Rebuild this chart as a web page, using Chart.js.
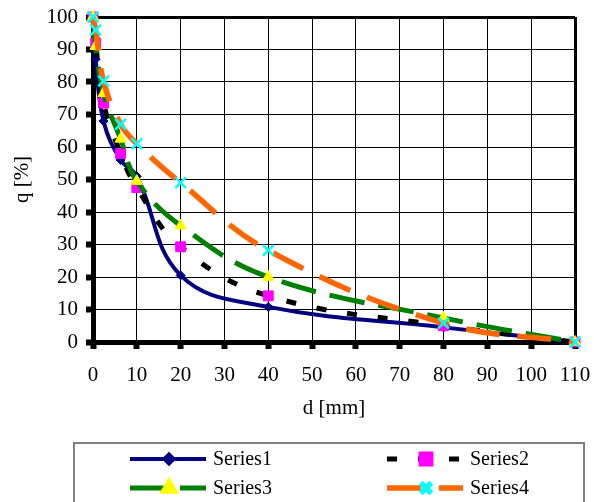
<!DOCTYPE html>
<html>
<head>
<meta charset="UTF-8">
<title>Grading curves</title>
<style>
html, body { margin: 0; padding: 0; background: #fff; }
#wrap { width: 594px; height: 502px; }
</style>
</head>
<body>
<div id="wrap"><canvas id="gradChart" width="594" height="502"></canvas></div>

<script src="https://cdn.jsdelivr.net/npm/chart.js"></script>
<script>
// sieve sizes d [mm] and passing q [%]
const sieve = [0, 0.6, 2.4, 6.3, 10, 20, 40, 80, 110];
const series1 = [100, 87, 68, 56, 51, 20.5, 10.8, 4.5, 0];
const series2 = [100, 92, 73.5, 58, 47.5, 29.3, 14.2, 5, 0];
const series3 = [100, 91, 76.5, 62.5, 49.5, 35.8, 20, 7.4, 0];
const series4 = [100, 96, 80.3, 67, 61, 49, 28.2, 5.8, 0];
const seriesNames = ['Series1', 'Series2', 'Series3', 'Series4'];
const xTicks = [0, 10, 20, 30, 40, 50, 60, 70, 80, 90, 100, 110];
const yTicks = [0, 10, 20, 30, 40, 50, 60, 70, 80, 90, 100];

const pts = vals => vals.map((v, i) => ({ x: sieve[i], y: v }));
const serif = 'Liberation Serif, Times New Roman, serif';

// legend drawn like the spreadsheet one: line sample with marker in the middle
const sheetLegend = {
  id: 'sheetLegend',
  afterDraw(chart) {
    const c = chart.ctx;
    c.save();
    c.strokeStyle = '#808080';
    c.lineWidth = 2;
    c.setLineDash([]);
    c.strokeRect(74, 443, 510, 80);
    chart.data.datasets.forEach((ds, i) => {
      const x = i % 2 ? 387 : 130;
      const y = i < 2 ? 459 : 488;
      c.strokeStyle = ds.borderColor;
      c.lineWidth = ds.borderWidth;
      c.setLineDash(ds.borderDash || []);
      c.beginPath();
      c.moveTo(x, y);
      c.lineTo(x + 76, y);
      c.stroke();
      c.setLineDash([]);
      c.fillStyle = ds.pointBackgroundColor;
      c.strokeStyle = ds.pointBorderColor;
      Chart.helpers.drawPoint(c, {
        pointStyle: ds.pointStyle,
        radius: ds.pointRadius,
        borderWidth: ds.pointBorderWidth,
        rotation: 0
      }, x + 39, y);
      c.fillStyle = '#000';
      c.font = '20px ' + serif;
      c.textBaseline = 'middle';
      c.fillText(ds.label, x + 83, y + 1);
    });
    c.restore();
  }
};

new Chart(document.getElementById('gradChart'), {
  type: 'line',
  data: {
    datasets: [{
      label: seriesNames[0],
      data: pts(series1),
      order: 3,
      borderColor: '#000080',
      borderWidth: 4,
      pointStyle: 'rectRot',
      pointRadius: 4.5,
      pointBackgroundColor: '#000080',
      pointBorderColor: '#000080',
      pointBorderWidth: 1
    }, {
      label: seriesNames[1],
      data: pts(series2),
      order: 2,
      borderColor: '#000000',
      borderWidth: 5,
      borderDash: [10, 21],
      pointStyle: 'rect',
      pointRadius: 7,
      pointBackgroundColor: '#ff00ff',
      pointBorderColor: '#ff00ff',
      pointBorderWidth: 1
    }, {
      label: seriesNames[2],
      data: pts(series3),
      order: 1,
      borderColor: '#008000',
      borderWidth: 5,
      borderDash: [36, 14],
      pointStyle: 'triangle',
      pointRadius: 6.5,
      pointBackgroundColor: '#ffff00',
      pointBorderColor: '#ffff00',
      pointBorderWidth: 1
    }, {
      label: seriesNames[3],
      data: pts(series4),
      order: 0,
      borderColor: '#ff6600',
      borderWidth: 5.5,
      borderDash: [34, 18],
      pointStyle: 'crossRot',
      pointRadius: 7.5,
      pointBackgroundColor: '#00ffff',
      pointBorderColor: '#00ffff',
      pointBorderWidth: 2.5
    }]
  },
  options: {
    responsive: false,
    animation: false,
    clip: false,
    layout: { padding: { left: 0, top: 17, right: 19, bottom: 0 } },
    elements: { line: { tension: 0.4, borderCapStyle: 'butt' } },
    plugins: {
      legend: { display: false },
      tooltip: { enabled: false }
    },
    scales: {
      x: {
        type: 'linear',
        min: 0,
        max: 110,
        afterFit: s => { s.height = 160; s.paddingLeft = 0; s.paddingRight = 0; },
        afterBuildTicks: s => { s.ticks = xTicks.map(v => ({ value: v })); },
        border: { display: true, color: '#000', width: 5 },
        grid: {
          color: '#000',
          lineWidth: ctx => (ctx.tick && ctx.tick.value === 110 ? 3 : 1),
          tickLength: 7,
          tickWidth: 6,
          tickColor: '#000'
        },
        ticks: { color: '#000', padding: 14, maxRotation: 0, font: { family: serif, size: 21 } },
        title: {
          display: true,
          text: 'd [mm]',
          color: '#000',
          font: { family: serif, size: 21 },
          padding: { top: 0, bottom: 81 }
        }
      },
      y: {
        min: 0,
        max: 100,
        afterFit: s => { s.width = 93; s.paddingTop = 0; s.paddingBottom = 0; },
        afterBuildTicks: s => { s.ticks = yTicks.map(v => ({ value: v })); },
        border: { display: true, color: '#000', width: 5 },
        grid: {
          color: '#000',
          lineWidth: ctx => (ctx.tick && ctx.tick.value === 100 ? 3 : 1),
          tickLength: 7,
          tickWidth: 6,
          tickColor: '#000'
        },
        ticks: { color: '#000', padding: 8, font: { family: serif, size: 21 } },
        title: {
          display: true,
          text: 'q [%]',
          color: '#000',
          font: { family: serif, size: 21 },
          padding: { top: 10, bottom: 0 }
        }
      }
    }
  },
  plugins: [sheetLegend]
});
</script>
</body>
</html>
